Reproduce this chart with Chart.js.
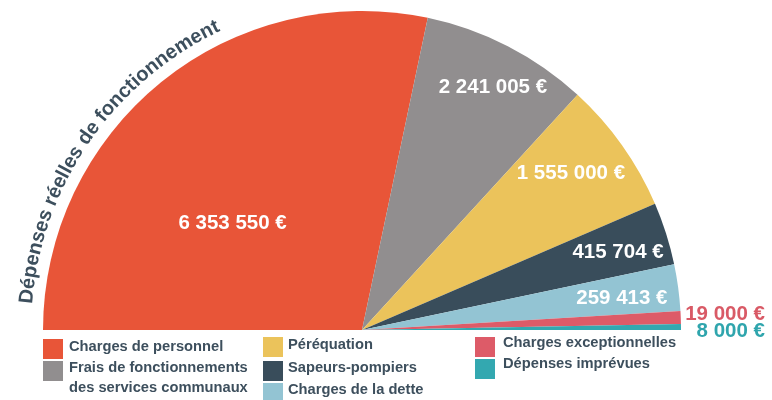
<!DOCTYPE html>
<html><head><meta charset="utf-8">
<script src="https://cdn.jsdelivr.net/npm/chart.js@4"></script>
<style>
html,body{margin:0;padding:0;background:#fff;}
#wrap{position:relative;width:772px;height:400px;overflow:hidden;}
#wrap canvas{position:absolute;left:0;top:0;}
.item{position:absolute;display:flex;align-items:flex-start;font-family:"Liberation Sans",Arial,sans-serif;font-weight:bold;font-size:14.7px;line-height:19.5px;color:#3d4f5d;white-space:nowrap;}
.sw{width:20px;height:20px;flex:none;position:relative;}
</style></head><body>
<div id="wrap"><canvas id="c" width="772" height="400"></canvas><div id="legend"></div></div>
<script>
// ---- data ----
const categories = ['Charges de personnel', 'Frais de fonctionnements\ndes services communaux', 'Péréquation', 'Sapeurs-pompiers', 'Charges de la dette', 'Charges exceptionnelles', 'Dépenses imprévues'];
const amounts = [6353550, 2241005, 1555000, 415704, 259413, 19000, 8000];
// slice sizes as drawn in the picture (degrees of the half circle, not proportional to amounts)
const sliceDegrees = [101.9, 30.6, 24.2, 11.4, 8.5, 2.3, 1.1];
const colors = ['#e85538', '#918e8f', '#ebc35b', '#394d5b', '#93c4d3', '#dd5b68', '#33a8b0'];
const title = 'Dépenses réelles de fonctionnement';

// ---- styles / placement ----
const labelPlacement = [
  {t: 0.393, r: 0.53},
  {t: 0.533, r: 0.868},
  {t: 0.43, r: 0.821},
  {t: 0.54, r: 0.84},
  {t: 0.553, r: 0.821},
  {outside: true, dx: 84, dy: -17, color: '#d95a66'},
  {outside: true, dx: 84, dy: 0, color: '#2fa5ad'}
];
const legendPos = [
  {x: 43, y: 337, s: 2, g: 6},
  {x: 43, y: 358, s: 3, g: 6},
  {x: 263, y: 335, s: 2, g: 5},
  {x: 263, y: 358, s: 3, g: 5},
  {x: 263, y: 380, s: 3, g: 5},
  {x: 475, y: 333, s: 4, g: 8},
  {x: 475, y: 354, s: 5, g: 8}
];

function fmt(v) { return String(v).replace(/\B(?=(\d{3})+(?!\d))/g, ' ') + ' €'; }

const valueLabels = {
  id: 'valueLabels',
  afterDatasetsDraw(chart) {
    const ctx = chart.ctx;
    const arcs = chart.getDatasetMeta(0).data;
    ctx.save();
    ctx.font = 'bold 20.5px "Liberation Sans", Arial, sans-serif';
    arcs.forEach((arc, i) => {
      const p = labelPlacement[i];
      const {x, y, startAngle, endAngle, outerRadius} = arc.getProps(['x', 'y', 'startAngle', 'endAngle', 'outerRadius'], true);
      const txt = fmt(amounts[i]);
      if (p.outside) {
        ctx.fillStyle = p.color;
        ctx.textAlign = 'right';
        ctx.textBaseline = 'alphabetic';
        ctx.fillText(txt, x + outerRadius + p.dx, y + p.dy + 7.3);
      } else {
        const a = startAngle + p.t * (endAngle - startAngle);
        const rr = outerRadius * p.r;
        ctx.fillStyle = '#ffffff';
        ctx.textAlign = 'center';
        ctx.textBaseline = 'alphabetic';
        ctx.fillText(txt, x + rr * Math.cos(a), y + rr * Math.sin(a) + 7.3);
      }
    });
    ctx.restore();
  }
};

const arcTitle = {
  id: 'arcTitle',
  afterDraw(chart) {
    const ctx = chart.ctx;
    const arc = chart.getDatasetMeta(0).data[0];
    const cx = arc.x, cy = arc.y;
    const R = arc.outerRadius + 12;
    ctx.save();
    ctx.font = 'bold 20px "Liberation Sans", Arial, sans-serif';
    ctx.fillStyle = '#3d4f5d';
    ctx.textAlign = 'center';
    ctx.textBaseline = 'alphabetic';
    let theta = 175.5 * Math.PI / 180;
    for (const ch of title) {
      const w = ctx.measureText(ch).width;
      const tc = theta - (w / 2) / R;
      ctx.save();
      ctx.translate(cx + R * Math.cos(tc), cy - R * Math.sin(tc));
      ctx.rotate(Math.PI / 2 - tc);
      ctx.fillText(ch, 0, 0);
      ctx.restore();
      theta -= w / R;
    }
    ctx.restore();
  }
};

new Chart(document.getElementById('c'), {
  type: 'pie',
  data: {
    labels: categories,
    datasets: [{data: sliceDegrees, backgroundColor: colors, borderWidth: 0, hoverOffset: 0}]
  },
  options: {
    responsive: false,
    animation: false,
    events: [],
    rotation: -90,
    circumference: 180,
    layout: {padding: {left: 43, right: 91, top: 11, bottom: 70}},
    plugins: {legend: {display: false}, tooltip: {enabled: false}}
  },
  plugins: [valueLabels, arcTitle]
});

// HTML legend
const legend = document.getElementById('legend');
categories.forEach((name, i) => {
  const p = legendPos[i];
  const item = document.createElement('div');
  item.className = 'item';
  item.style.left = p.x + 'px';
  item.style.top = p.y + 'px';
  const sw = document.createElement('span');
  sw.className = 'sw';
  sw.style.background = colors[i];
  sw.style.top = p.s + 'px';
  sw.style.marginRight = p.g + 'px';
  const tx = document.createElement('span');
  name.split('\n').forEach((line, k) => {
    if (k) tx.appendChild(document.createElement('br'));
    tx.appendChild(document.createTextNode(line));
  });
  item.appendChild(sw);
  item.appendChild(tx);
  legend.appendChild(item);
});
</script>
</body></html>
